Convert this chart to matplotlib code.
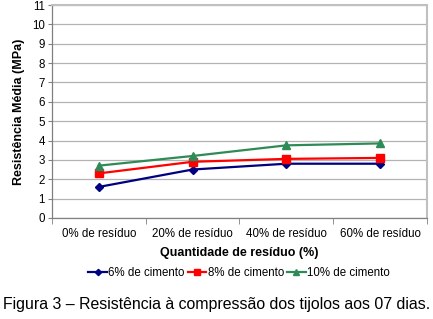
import matplotlib
matplotlib.use("Agg")
import matplotlib.pyplot as plt
import numpy as np

plt.rcParams["font.family"] = ["Liberation Sans", "DejaVu Sans"]

categorias = ["0% de resíduo", "20% de resíduo", "40% de resíduo", "60% de resíduo"]
cimento_6 = [1.6, 2.5, 2.8, 2.8]
cimento_8 = [2.3, 2.9, 3.05, 3.1]
cimento_10 = [2.7, 3.2, 3.75, 3.85]

fig = plt.figure(figsize=(4.33, 3.19), dpi=100)
ax = fig.add_axes([0.120, 0.317, 0.866, 0.667])

x = np.arange(len(categorias))
ax.plot(x, cimento_6, color="#000080", marker="D", markersize=4, lw=1.6, label="6% de cimento")
ax.plot(x, cimento_8, color="#ff0000", marker="s", markersize=5.5, lw=1.6, label="8% de cimento")
ax.plot(x, cimento_10, color="#2e8b57", marker="^", markersize=5.5, lw=1.6, label="10% de cimento")

ax.set_xlim(-0.5, 3.5)
ax.set_ylim(0, 11)
ax.set_yticks(range(0, 12))
ax.set_xticks(x)
ax.set_xticklabels(categorias)
ax.set_xticks(np.arange(-0.5, 4, 1), minor=True)
ax.tick_params(axis="x", which="major", length=0, labelsize=8.3, pad=7)
ax.tick_params(axis="x", which="minor", length=4, color="#808080", direction="out")
ax.tick_params(axis="y", length=3, color="#808080", labelsize=8.3, pad=2)
ax.grid(axis="y", color="#b3b3b3", lw=0.9)
ax.set_axisbelow(True)
for s in ["top", "right"]:
    ax.spines[s].set_color("#c0c0c0")
    ax.spines[s].set_linewidth(1.5)
for s in ["left", "bottom"]:
    ax.spines[s].set_color("#808080")
    ax.spines[s].set_linewidth(0.9)

ax.set_ylabel("Resistência Média (MPa)", fontsize=9, fontweight="bold", labelpad=5)
ax.set_xlabel("Quantidade de resíduo (%)", fontsize=9, fontweight="bold", labelpad=5)

fig.legend(loc="center", bbox_to_anchor=(0.552, 0.145), ncol=3, frameon=False, fontsize=8.3,
           handlelength=1.6, handletextpad=0.1, columnspacing=0.3, markerscale=0.8)

fig.text(0.5, 0.045, "Figura 3 – Resistência à compressão dos tijolos aos 07 dias.",
         ha="center", va="center", fontsize=11.4)

fig.savefig("out.png", dpi=100)
